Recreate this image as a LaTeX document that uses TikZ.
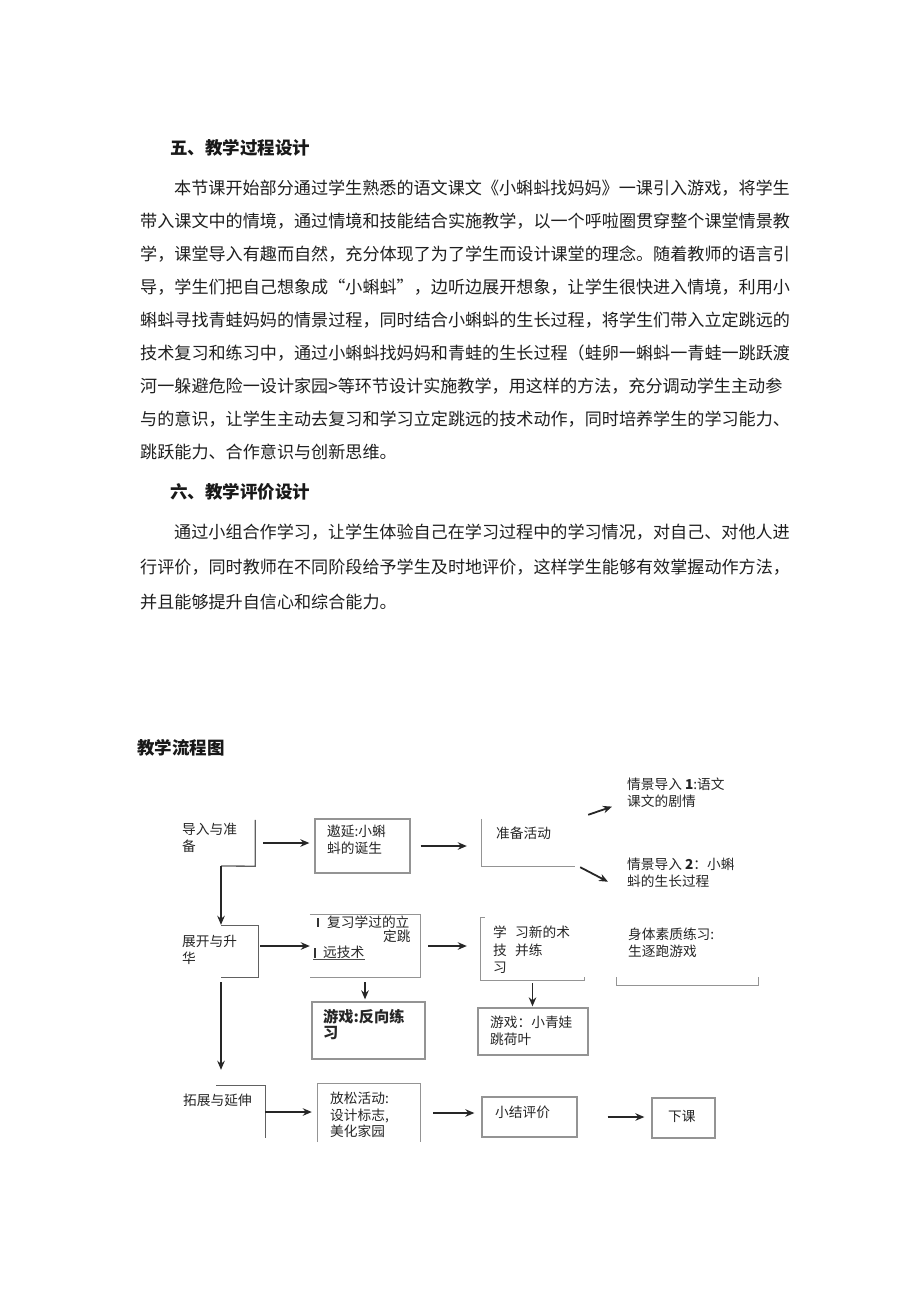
\documentclass[tikz,border=0pt]{standalone}
\usepackage{fontspec}
\setmainfont{Noto Sans CJK SC}
\usetikzlibrary{arrows.meta}
\tikzset{
  body/.style={anchor=west, inner sep=0pt, text=black!88, font=\fontsize{17.1}{17.1}\selectfont},
  head/.style={anchor=west, inner sep=0pt, text=black!90, font=\fontsize{17.5}{17.5}\selectfont\bfseries},
  ftext/.style={anchor=north west, inner sep=0pt, text=black!85, align=left, font=\fontsize{13.7}{16.5}\selectfont},
  conn/.style={-{Stealth[length=9pt,width=7.5pt]}, line width=1.8pt, black!85},
  region/.style={rectangle, inner sep=0pt, draw=none},
  gbox/.style={rectangle, inner sep=0pt, draw=black!42, line width=1.3pt},
  sframe/.style={draw=black!62, line width=1.3pt},
  gframe/.style={draw=black!42, line width=1.3pt},
}
\begin{document}
\begin{tikzpicture}[x=1pt,y=-1pt]
\useasboundingbox[fill=white] (0,0) rectangle (920,1301);

% ---------- text ----------
\node[head] (h5) at (170,148) {五、教学过程设计};
\node[body] (p1) at (174,188) {本节课开始部分通过学生熟悉的语文课文《小蝌蚪找妈妈》一课引入游戏，将学生};
\node[body] (p2) at (140,221) {带入课文中的情境，通过情境和技能结合实施教学，以一个呼啦圈贯穿整个课堂情景教};
\node[body] (p3) at (140,254) {学，课堂导入有趣而自然，充分体现了为了学生而设计课堂的理念。随着教师的语言引};
\node[body] (p4) at (140,287) {导，学生们把自己想象成“小蝌蚪”，边听边展开想象，让学生很快进入情境，利用小};
\node[body] (p5) at (140,320) {蝌蚪寻找青蛙妈妈的情景过程，同时结合小蝌蚪的生长过程，将学生们带入立定跳远的};
\node[body] (p6) at (140,353) {技术复习和练习中，通过小蝌蚪找妈妈和青蛙的生长过程（蛙卵一蝌蚪一青蛙一跳跃渡};
\node[body] (p7) at (140,386) {河一躲避危险一设计家园>等环节设计实施教学，用这样的方法，充分调动学生主动参};
\node[body] (p8) at (140,419) {与的意识，让学生主动去复习和学习立定跳远的技术动作，同时培养学生的学习能力、};
\node[body] (p9) at (140,452) {跳跃能力、合作意识与创新思维。};

\node[head] (h6) at (170,492) {六、教学评价设计};
\node[body] (e1) at (174,532) {通过小组合作学习，让学生体验自己在学习过程中的学习情况，对自己、对他人进};
\node[body] (e2) at (140,567) {行评价，同时教师在不同阶段给予学生及时地评价，这样学生能够有效掌握动作方法，};
\node[body] (e3) at (140,602) {并且能够提升自信心和综合能力。};

\node[head] (title) at (137,748) {教学流程图};

% ---------- flowchart regions / boxes ----------
\node[region, minimum width=80pt, minimum height=46pt] (s1) at (215,843) {};
\node[region, minimum width=83pt, minimum height=51pt] (s2) at (216.5,951.5) {};
\node[region, minimum width=90pt, minimum height=52pt] (s3) at (220,1112) {};
\coordinate (s1d) at (221,866);

\node[gbox, minimum width=95pt, minimum height=54pt] (zy) at (362.5,846) {};
\node[region, minimum width=93pt, minimum height=47pt] (zb) at (528.5,842.5) {};
\node[region, minimum width=110pt, minimum height=62pt] (fx) at (365,946) {};
\node[gbox, minimum width=113pt, minimum height=57pt] (fy) at (368.5,1030.5) {};
\node[region, minimum width=103pt, minimum height=62pt] (xx) at (532.5,949) {};
\node[gbox, minimum width=110pt, minimum height=47pt] (xq) at (533,1031.5) {};
\node[region, minimum width=141pt, minimum height=65pt] (st) at (687.5,952.5) {};
\node[region, minimum width=102pt, minimum height=58pt] (fs) at (369,1113) {};
\node[gbox, minimum width=95pt, minimum height=40pt] (xj) at (529.5,1117) {};
\node[gbox, minimum width=63pt, minimum height=40pt] (xk) at (683.5,1118) {};

% partial frames
\draw[sframe] (s1.north east) -- (s1.south east) -- (s1d);
\draw[sframe] (s1d |- s2.north) -- (s2.north east) -- (s2.south east) -- (s1d |- s2.south);
\draw[sframe] ([xshift=-5pt]s1d |- s3.north) -- (s3.north east) -- (s3.south east);
\draw[gframe] (zb.north west) -- (zb.south west) -- (zb.south east);
\draw[gframe] (fx.north west) -- (fx.north east) -- (fx.south east) -- (fx.south west);
\draw[gframe] ([xshift=4pt]xx.north west) -- (xx.north west) -- (xx.south west) -- (xx.south east) -- ([yshift=3pt]xx.south east);
\draw[gframe] ([yshift=8pt]st.south west) -- (st.south west) -- (st.south east) -- ([yshift=8pt]st.south east);
\draw[gframe] (fs.south west) -- (fs.north west) -- (fs.north east) -- (fs.south east);
% small marks inside the review box
\draw[black!80, line width=1.2pt] (318,918) -- (318,927);
\draw[black!80, line width=1.2pt] (315,948) -- (315,958);
\draw[black!70, line width=0.9pt] (313,959.5) -- (365,959.5);

% ---------- flowchart texts ----------
\node[ftext] (t1) at (182,823) {导入与准\\备};
\node[ftext] (t2) at (327,825) {遨延:小蝌\\蚪的诞生};
\node[ftext] (t3) at (496,827) {准备活动};
\node[ftext] (q1) at (627,778) {情景导入 \textbf{1}:语文\\课文的剧情};
\node[ftext] (q2) at (627,858) {情景导入 \textbf{2}：小蝌\\蚪的生长过程};
\node[ftext] (t4) at (182,935) {展开与升\\华};
\node[ftext] (t5a) at (327,916) {复习学过的立};
\node[ftext] (t5b) at (383,930) {定跳};
\node[ftext] (t5c) at (323,946) {远技术};
\node[ftext, font=\fontsize{15.2}{16.5}\selectfont\bfseries] (t6) at (323,1009) {游戏:反向练\\习};
\node[ftext, font=\fontsize{13.7}{17.5}\selectfont] (t7a) at (493,926) {学\\技\\习};
\node[ftext, font=\fontsize{13.7}{17.5}\selectfont] (t7b) at (515,926) {习新的术\\并练};
\node[ftext] (t8) at (628,928) {身体素质练习:\\生逐跑游戏};
\node[ftext] (t9) at (490,1016) {游戏：小青娃\\跳荷叶};
\node[ftext] (t10) at (183,1094) {拓展与延伸};
\node[ftext] (t11) at (330,1092) {放松活动:\\设计标志,\\美化家园};
\node[ftext] (t12) at (495,1106) {小结评价};
\node[ftext] (t13) at (668,1110) {下课};

% ---------- connectors ----------
\draw[conn] ([xshift=8pt]s1.east) -- ([xshift=-5pt]s1.east -| zy.west);
\draw[conn] ([xshift=10pt]zy.east) -- ([xshift=-15pt]zy.east -| zb.west);
\draw[conn] ([xshift=13pt,yshift=4pt]zb.north east) -- ([xshift=-15pt,yshift=1pt]q1.south west);
\draw[conn] ([xshift=5pt,yshift=-1pt]zb.south east) -- ([xshift=-19pt,yshift=-9pt]q2.west);
\draw[conn] (s1d) -- ([yshift=1pt]s1d |- s2.north);
\draw[conn] ([xshift=2pt]s2.east |- fx.west) -- (fx.west);
\draw[conn] ([xshift=8pt]fx.east) -- ([xshift=-14pt]fx.east -| xx.west);
\draw[conn] ([yshift=-5pt]fx.south) -- ([yshift=2pt]fx.south |- fy.north);
\draw[conn] ([yshift=-3pt]xx.south) -- ([yshift=1pt]xx.south |- xq.north);
\draw[conn] ([yshift=-5pt]s1d |- s2.south) -- ([yshift=16pt]s1d |- s3.north);
\draw[conn] (s3.east) -- ([xshift=-6pt]s3.east -| fs.west);
\draw[conn] ([xshift=13pt]fs.east) -- ([xshift=-7pt]fs.east -| xj.west);
\draw[conn] ([xshift=30pt]xj.east) -- ([xshift=-7pt]xj.east -| xk.west);
\end{tikzpicture}
\end{document}
